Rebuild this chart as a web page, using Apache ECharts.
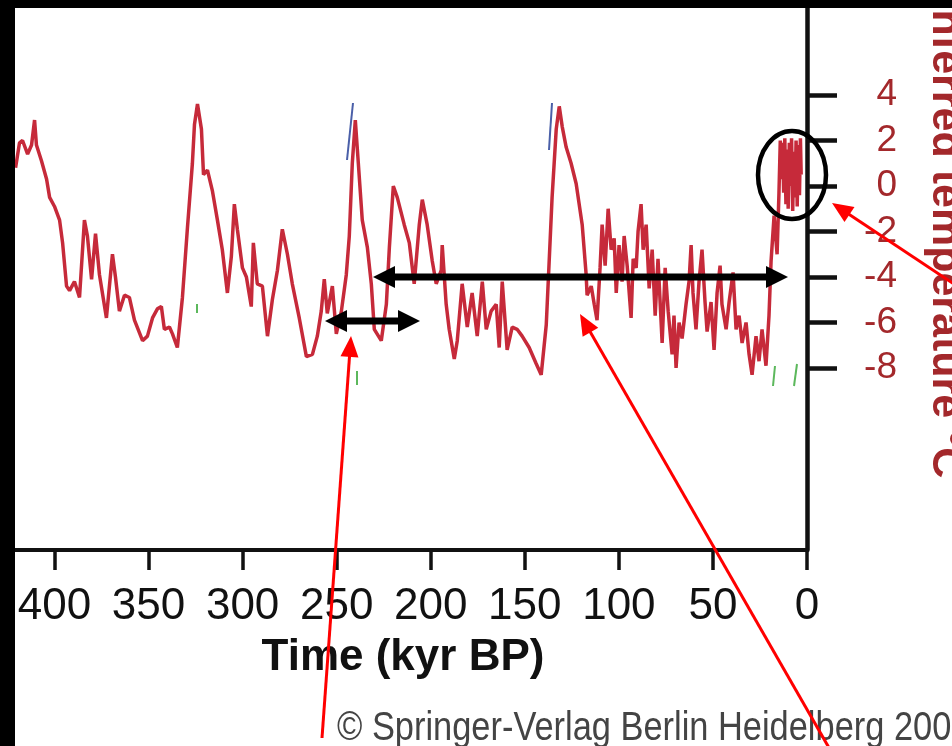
<!DOCTYPE html>
<html>
<head>
<meta charset="utf-8">
<script src="https://cdn.jsdelivr.net/npm/echarts@6/dist/echarts.min.js"></script>
<style>
  html, body { margin: 0; padding: 0; background: #fff; }
  #chart { width: 952px; height: 746px; }
</style>
</head>
<body>
<div id="chart"></div>
<script>
// Vostok inferred temperature (kyr BP, deg C)
const ageKyr = [
  420.7, 418.6, 417.0, 414.3, 412.2, 410.6, 409.6, 406.9, 404.2, 402.6,
  400.0, 397.3, 395.7, 393.6, 392.0, 389.4, 386.7, 384.1, 382.5, 380.3,
  378.2, 376.1, 372.4, 369.2, 367.6, 365.5, 362.8, 360.2, 357.5, 353.2,
  350.6, 347.9, 345.3, 343.2, 341.6, 338.9, 337.3, 334.7, 332.0, 329.3,
  326.7, 325.6, 324.0, 321.9, 320.8, 318.7, 316.1, 313.4, 310.8, 308.1,
  306.0, 304.4, 302.8, 300.1, 298.0, 295.4, 294.3, 292.2, 289.5, 286.8,
  284.2, 281.5, 278.9, 276.2, 273.6, 269.9, 266.1, 262.9, 260.3, 258.2,
  256.6, 255.0, 252.3, 250.2, 247.5, 244.9, 243.3, 241.7, 240.1, 238.5,
  236.4, 233.7, 231.6, 230.0, 226.3, 223.6, 222.0, 219.9, 217.8, 214.1,
  211.4, 208.8, 206.1, 204.5, 201.9, 199.2, 197.1, 194.4, 193.9, 191.8,
  190.2, 187.5, 185.9, 183.3, 180.6, 178.0, 175.3, 172.6, 170.5, 167.9,
  165.2, 163.6, 162.0, 159.4, 156.7, 154.1, 151.4, 147.7, 144.0, 141.3,
  138.6, 137.1, 135.5, 133.3, 131.7, 130.1, 128.0, 125.4, 122.7,
  119.5, 117.4, 116.9, 114.7, 113.1, 111.6, 110.0, 108.9, 107.3, 105.7,
  104.1, 102.5, 101.4, 99.9, 98.3, 97.2, 95.6, 93.5, 92.4, 90.8,
  89.8, 88.2, 87.1, 85.5, 83.9, 82.3, 80.7, 79.2, 77.0, 75.4,
  73.8, 71.7, 70.7, 69.6, 68.0, 66.4, 64.3, 62.7, 61.6, 60.6,
  59.0, 57.4, 55.8, 54.2, 53.1, 51.0, 49.4, 47.8, 46.2, 45.2,
  43.0, 41.4, 39.3, 37.7, 36.1, 34.5, 32.4, 30.8, 29.2, 27.1,
  25.5, 23.9, 21.8, 20.2, 19.1, 17.5, 15.9, 14.9,
  14.2, 13.6, 13.0, 12.4, 11.8, 11.2, 10.6, 10.0, 9.4, 8.8,
  8.2, 7.6, 7.0, 6.4, 5.8, 5.2, 4.6, 4.0, 3.5, 3.1
];
const tempC = [
  0.8, 1.9, 2.0, 1.4, 1.8, 2.9, 1.8, 1.1, 0.3, -0.5,
  -0.9, -1.5, -2.5, -4.4, -4.6, -4.2, -4.9, -1.5, -2.2, -4.1,
  -2.1, -3.9, -5.8, -3.0, -4.0, -5.5, -4.8, -4.9, -5.9, -6.8,
  -6.6, -5.8, -5.4, -5.3, -6.3, -6.2, -6.5, -7.1, -4.9, -1.8,
  1.0, 2.7, 3.6, 2.5, 0.5, 0.7, -0.2, -1.5, -2.8, -4.7,
  -3.1, -0.8, -1.9, -3.6, -4.0, -5.3, -2.5, -4.3, -4.4, -6.6,
  -5.0, -3.7, -1.9, -3.0, -4.3, -5.8, -7.5, -7.4, -6.6, -5.5,
  -4.1, -5.6, -4.4, -6.5, -5.5, -3.9, -2.2, 1.0, 2.9, 1.0,
  -1.5, -2.7, -4.3, -6.3, -6.8, -5.2, -2.7, 0.0, -0.5, -1.7,
  -2.5, -4.3, -1.7, -0.6, -1.7, -3.3, -4.3, -3.7, -2.6, -5.2,
  -6.3, -7.6, -6.8, -4.3, -6.2, -4.7, -6.6, -4.2, -6.3, -5.5,
  -5.2, -7.1, -4.2, -7.2, -6.2, -6.3, -6.6, -7.1, -7.8, -8.3,
  -6.1, -3.4, -0.5, 2.5, 3.5, 2.6, 1.7, 1.0, 0.1,
  -1.7, -3.9, -4.8, -4.4, -5.2, -5.9, -3.6, -1.7, -3.5, -1.0,
  -2.8, -2.3, -4.7, -2.6, -4.2, -2.2, -3.5, -5.8, -3.2, -3.6,
  -2.0, -0.8, -2.8, -1.7, -4.5, -2.8, -5.7, -3.2, -6.9, -3.6,
  -5.5, -7.4, -5.7, -8.0, -6.0, -6.7, -5.2, -4.2, -2.6, -4.7,
  -6.3, -4.2, -2.8, -5.1, -6.4, -5.1, -7.2, -4.7, -3.5, -5.2,
  -6.3, -5.1, -3.8, -6.3, -5.7, -6.9, -6.0, -7.4, -8.3, -6.6,
  -7.7, -6.3, -7.9, -5.7, -3.3, -1.3, -3.0, -0.3,
  2.0, 0.3, 1.9, -0.3, 2.1, -0.8, 1.6, -1.0, 1.9, 0.0,
  2.1, -1.1, 1.5, -0.5, 2.0, -0.9, 1.8, -0.4, 2.1, 0.5
];
const timeTicks = [0, 50, 100, 150, 200, 250, 300, 350, 400];
const tempTicks = [4, 2, 0, -2, -4, -6, -8];

const RED_TXT = '#a3282b';
const LINE_RED = '#c62a3a';

const chart = echarts.init(document.getElementById('chart'));

function head(tip, from, len, half, color) {
  const dx = tip[0] - from[0], dy = tip[1] - from[1];
  const d = Math.hypot(dx, dy), ux = dx / d, uy = dy / d;
  const bx = tip[0] - ux * len, by = tip[1] - uy * len;
  return {
    type: 'polygon', silent: true, z: 120,
    shape: { points: [tip, [bx - uy * half, by + ux * half], [bx + uy * half, by - ux * half]] },
    style: { fill: color }
  };
}
function shaft(a, b, cut, width, color) {
  const dx = b[0] - a[0], dy = b[1] - a[1];
  const d = Math.hypot(dx, dy), ux = dx / d, uy = dy / d;
  return {
    type: 'line', silent: true, z: 119,
    shape: { x1: a[0] + ux * cut[0], y1: a[1] + uy * cut[0], x2: b[0] - ux * cut[1], y2: b[1] - uy * cut[1] },
    style: { stroke: color, lineWidth: width }
  };
}
function doubleArrow(l, r) {
  return [shaft(l, r, [18, 18], 7, '#000'), head(l, r, 22, 11, '#000'), head(r, l, 22, 11, '#000')];
}
function redArrow(tail, tip) {
  return [shaft(tail, tip, [0, 14], 3, '#ff0000'), head(tip, tail, 21, 9, '#ff0000')];
}
function tick(x1, y1, x2, y2, color) {
  return { type: 'line', silent: true, z: 90, shape: { x1, y1, x2, y2 }, style: { stroke: color, lineWidth: 2 } };
}

const graphics = [].concat(
  [
    tick(353, 103, 347, 160, '#4a5fa8'),
    tick(552, 103, 549, 150, '#4a5fa8'),
    tick(197, 304, 197, 313, '#5cb85c'),
    tick(357, 371, 357, 385, '#5cb85c'),
    tick(775, 366, 773, 386, '#5cb85c'),
    tick(797, 364, 794, 386, '#5cb85c')
  ],
  doubleArrow([373, 277], [788, 277]),
  doubleArrow([325, 321], [420, 321]),
  [{
    type: 'ellipse', silent: true, z: 118,
    shape: { cx: 792, cy: 175, rx: 34, ry: 44 },
    style: { fill: 'none', stroke: '#000', lineWidth: 4.5 }
  }],
  redArrow([322, 738], [351, 336]),
  redArrow([836, 760], [580, 314]),
  redArrow([960, 288], [832, 203]),
  [
    {
      type: 'text', silent: true, z: 110,
      x: 945, y: 238, rotation: -Math.PI / 2,
      style: {
        text: 'Inferred temperature °C', fill: RED_TXT,
        font: 'bold 43px "Liberation Sans", Arial, sans-serif',
        align: 'center', verticalAlign: 'middle'
      }
    },
    {
      type: 'text', silent: true, z: 110,
      x: 337, y: 729, scaleX: 0.86,
      style: {
        text: '© Springer-Verlag Berlin Heidelberg 2004', fill: '#444',
        font: '40px "Liberation Sans", Arial, sans-serif',
        align: 'left', verticalAlign: 'middle'
      }
    },
    { type: 'rect', silent: true, z: 200, shape: { x: 0, y: 0, width: 952, height: 8 }, style: { fill: '#000' } },
    { type: 'rect', silent: true, z: 200, shape: { x: 0, y: 0, width: 15, height: 746 }, style: { fill: '#000' } }
  ]
);

chart.setOption({
  animation: false,
  backgroundColor: '#fff',
  grid: { left: 15, right: 145, top: 4, bottom: 196, containLabel: false, outerBoundsMode: 'none' },
  xAxis: {
    type: 'value', inverse: true, min: 0, max: 421,
    axisLine: { show: true, onZero: false, lineStyle: { color: '#111', width: 4 } },
    axisTick: { show: true, customValues: timeTicks, length: 20, lineStyle: { color: '#111', width: 3.5 } },
    axisLabel: {
      customValues: timeTicks, fontSize: 44, color: '#111', margin: 35,
      fontFamily: '"Liberation Sans", Arial, sans-serif'
    },
    splitLine: { show: false },
    name: 'Time (kyr BP)', nameLocation: 'middle', nameGap: 86,
    nameTextStyle: {
      fontSize: 44, fontWeight: 'bold', color: '#111',
      fontFamily: '"Liberation Sans", Arial, sans-serif', padding: [0, 16, 0, 0]
    }
  },
  yAxis: {
    type: 'value', position: 'right', min: -16, max: 8,
    axisLine: { show: true, onZero: false, lineStyle: { color: '#111', width: 4.5 } },
    axisTick: { show: true, customValues: tempTicks, length: 30, lineStyle: { color: '#111', width: 4.5 } },
    axisLabel: {
      customValues: tempTicks, fontSize: 37, color: RED_TXT, align: 'right', margin: 90,
      fontFamily: '"Liberation Sans", Arial, sans-serif'
    },
    splitLine: { show: false }
  },
  series: [{
    type: 'line',
    data: ageKyr.map((a, i) => [a, tempC[i]]),
    showSymbol: false,
    lineStyle: { color: LINE_RED, width: 3.5 },
    z: 5
  }],
  graphic: graphics
});
</script>
</body>
</html>
